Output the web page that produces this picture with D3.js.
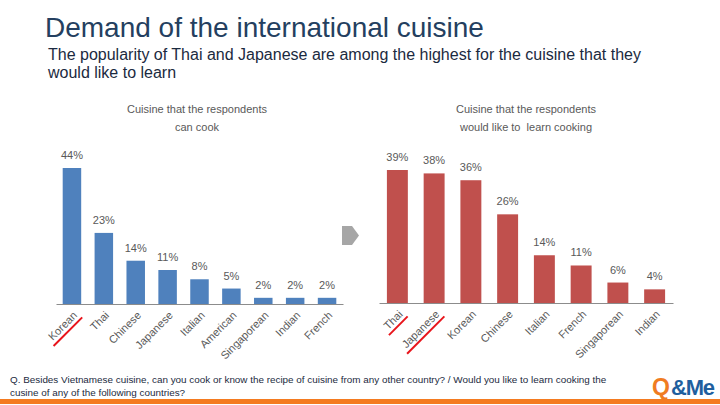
<!DOCTYPE html>
<html><head><meta charset="utf-8">
<script src="https://cdn.jsdelivr.net/npm/d3@7"></script>
<style>
html,body{margin:0;padding:0;background:#fff;}
svg{display:block;font-family:"Liberation Sans",Arial,sans-serif;}
</style></head>
<body>
<svg id="c" width="720" height="405"></svg>
<script>
// ---- data ----
const leftCategories = ["Korean","Thai","Chinese","Japanese","Italian","American","Singaporean","Indian","French"];
const leftValues = [44,23,14,11,8,5,2,2,2];
const rightCategories = ["Thai","Japanese","Korean","Chinese","Italian","French","Singaporean","Indian"];
const rightValues = [39,38,36,26,14,11,6,4];
const leftTitle = ["Cuisine that the respondents","can cook"];
const rightTitle = ["Cuisine that the respondents","would like to\u00a0 learn cooking"];
const leftHighlight = ["Korean"];
const rightHighlight = ["Thai","Japanese"];

const svg = d3.select("#c");
const gray = "#595959";

svg.append("text").attr("x",45).attr("y",37).attr("font-size",28).attr("fill","#243F60")
  .text("Demand of the international cuisine");
svg.append("text").attr("x",48).attr("y",60).attr("font-size",16).attr("fill","#1B2A40")
  .text("The popularity of Thai and Japanese are among the highest for the cuisine that they");
svg.append("text").attr("x",48).attr("y",78).attr("font-size",16).attr("fill","#1B2A40")
  .text("would like to learn");

function chart(cfg){
  const x = d3.scaleBand().domain(cfg.cats).range([cfg.x0,cfg.x1]).paddingInner(cfg.pi).paddingOuter(cfg.pi/2);
  const y = d3.scaleLinear().domain([0,cfg.vmax]).range([cfg.base,cfg.top]);
  const g = svg.append("g");
  const data = cfg.cats.map((c,i)=>({c, v:cfg.vals[i]}));
  g.selectAll("rect").data(data).join("rect")
    .attr("x",d=>x(d.c)).attr("width",x.bandwidth())
    .attr("y",d=>y(d.v)).attr("height",d=>y(0)-y(d.v))
    .attr("fill",cfg.color);
  g.selectAll("text.val").data(data).join("text").attr("class","val")
    .attr("x",d=>x(d.c)+x.bandwidth()/2).attr("y",d=>y(d.v)-9)
    .attr("text-anchor","middle").attr("font-size",11).attr("fill",gray)
    .text(d=>d.v+"%");
  const axis = d3.axisBottom(x).tickSize(0).tickPadding(0);
  const ag = g.append("g").attr("transform",`translate(0,${cfg.base})`).call(axis);
  ag.select(".domain").attr("stroke","#8C8C8C").attr("stroke-width",1);
  ag.selectAll(".tick text").attr("font-size",11).attr("fill",gray)
    .attr("font-family","Liberation Sans, Arial, sans-serif")
    .attr("text-anchor","end").attr("dy",0)
    .attr("transform","translate(6,12) rotate(-45)");
  ag.selectAll(".tick").each(function(d){
    if(cfg.hl.indexOf(d)<0) return;
    const t = d3.select(this).select("text");
    const len = t.node().getComputedTextLength();
    d3.select(this).append("line")
      .attr("transform","translate(6,12) rotate(-45)")
      .attr("x1",-len-3).attr("x2",2).attr("y1",4).attr("y2",4)
      .attr("stroke","#E8141B").attr("stroke-width",2);
  });
  cfg.title.forEach((s,i)=>{
    svg.append("text").attr("x",cfg.tx).attr("y",113+i*18).attr("text-anchor","middle")
      .attr("font-size",11).attr("fill",gray).attr("xml:space","preserve").text(s);
  });
}

chart({cats:leftCategories, vals:leftValues, x0:56, x1:343, pi:0.42, base:304, top:168, vmax:44,
  color:"#4F81BD", hl:leftHighlight, title:leftTitle, tx:197});
chart({cats:rightCategories, vals:rightValues, x0:379, x1:673, pi:0.43, base:303, top:170, vmax:39,
  color:"#C0504D", hl:rightHighlight, title:rightTitle, tx:526});

// arrow
svg.append("path").attr("d","M342,226 L352,226 L359,235.5 L352,245 L342,245 Z").attr("fill","#A6A6A6");

// footer
svg.append("text").attr("x",10).attr("y",383).attr("font-size",9.9).attr("fill","#1B2A40")
  .text("Q. Besides Vietnamese cuisine, can you cook or know the recipe of cuisine from any other country? / Would you like to learn cooking the");
svg.append("text").attr("x",10).attr("y",396).attr("font-size",9.9).attr("fill","#1B2A40")
  .text("cusine of any of the following countries?");
svg.append("rect").attr("x",0).attr("y",399).attr("width",720).attr("height",5).attr("fill","#F47B20");

// logo
svg.append("text").attr("x",652).attr("y",395).attr("font-size",23).attr("font-weight","bold")
  .attr("fill","#F07C22").text("Q");
svg.append("text").attr("x",671).attr("y",395).attr("font-size",22).attr("font-weight","bold")
  .attr("letter-spacing",-1.2).attr("fill","#1F5F9E").text("&Me");
</script>
</body></html>
